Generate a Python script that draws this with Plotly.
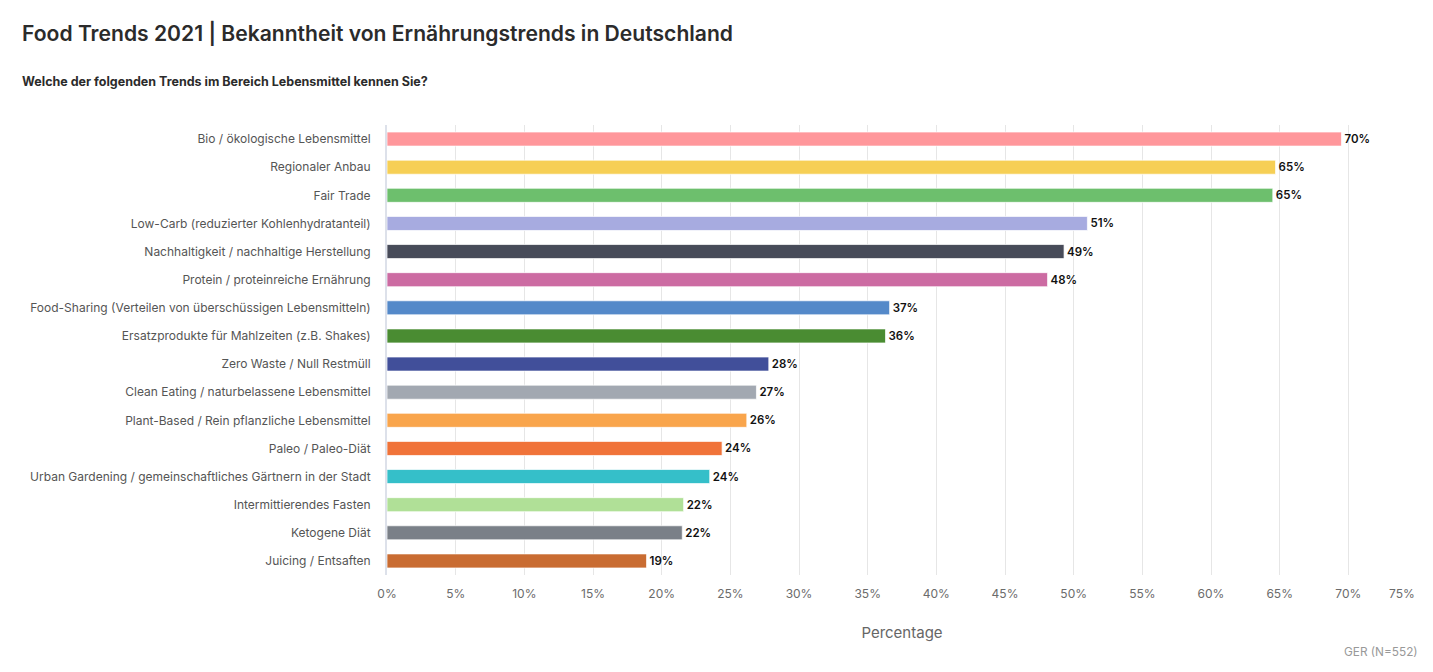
import plotly.graph_objects as go

categories = [
    "Bio / ökologische Lebensmittel",
    "Regionaler Anbau",
    "Fair Trade",
    "Low-Carb (reduzierter Kohlenhydratanteil)",
    "Nachhaltigkeit / nachhaltige Herstellung",
    "Protein / proteinreiche Ernährung",
    "Food-Sharing (Verteilen von überschüssigen Lebensmitteln)",
    "Ersatzprodukte für Mahlzeiten (z.B. Shakes)",
    "Zero Waste / Null Restmüll",
    "Clean Eating / naturbelassene Lebensmittel",
    "Plant-Based / Rein pflanzliche Lebensmittel",
    "Paleo / Paleo-Diät",
    "Urban Gardening / gemeinschaftliches Gärtnern in der Stadt",
    "Intermittierendes Fasten",
    "Ketogene Diät",
    "Juicing / Entsaften",
]
values = [69.5, 64.7, 64.5, 51.0, 49.3, 48.1, 36.6, 36.3, 27.8, 26.9, 26.2, 24.4, 23.5, 21.6, 21.5, 18.9]
value_labels = ["70%", "65%", "65%", "51%", "49%", "48%", "37%", "36%", "28%", "27%", "26%", "24%", "24%", "22%", "22%", "19%"]
colors = ["#FF979B", "#F6CF55", "#6DBF6D", "#A7ABE0", "#474B59", "#CC6BA2", "#5489C9", "#4A8C32",
          "#414F9A", "#A2A8B1", "#F9A54C", "#F07339", "#35BFC9", "#B0E097", "#7A8088", "#C96C32"]
tick_vals = list(range(0, 80, 5))
tick_text = [f"{v}%" for v in tick_vals]
X_MAX = tick_vals[-1]
last_tick_label = tick_text[-1]
tick_text[-1] = ""  # drawn separately, pulled inside the chart edge as in the original

FONT = "Inter, Roboto, 'Noto Sans', sans-serif"

# page body has an 8px margin; compensate so the figure fits the window
OFF = 8
W, H = 1433 - 2 * OFF, 672 - 2 * OFF
L, R, T = 387 - OFF, W - (1417 - OFF), 125 - OFF
B = H - (575 - OFF)
pw = W - L - R
ph = H - T - B


def px(page_x):
    return (page_x - OFF - L) / pw


def py(page_y):
    return (H - B - (page_y - OFF)) / ph


fig = go.Figure(go.Bar(
    x=values,
    y=categories,
    orientation="h",
    marker=dict(color=colors, line=dict(color="rgba(255,255,255,0.7)", width=1)),
    text=value_labels,
    textposition="outside",
    textfont=dict(family=FONT, size=11.5, color="#111111", weight=600),
    cliponaxis=False,
    hoverinfo="skip",
))

fig.update_layout(
    width=W, height=H,
    margin=dict(l=L, r=R, t=T, b=B),
    paper_bgcolor="white", plot_bgcolor="white",
    bargap=0.5,
    showlegend=False,
    font=dict(family=FONT),
    xaxis=dict(
        range=[0, X_MAX], tickvals=tick_vals, ticktext=tick_text,
        showgrid=True, gridcolor="#e6e6e6", gridwidth=1,
        zeroline=False, showline=False,
        tickfont=dict(family=FONT, size=12, color="#6b6b6b"),
        ticks="", ticklabelstandoff=10,
        title=dict(text="Percentage", font=dict(family=FONT, size=15, color="#666666"), standoff=27),
    ),
    yaxis=dict(
        categoryorder="array", categoryarray=categories, autorange="reversed",
        showgrid=False, zeroline=False,
        showline=True, linecolor="#dde1ea", linewidth=2,
        ticks="", ticklabelstandoff=12,
        tickfont=dict(family=FONT, size=12, color="#555555"),
    ),
)

fig.add_annotation(text=last_tick_label, x=X_MAX, xref="x", y=py(593), yref="paper",
                   xanchor="right", yanchor="middle", showarrow=False,
                   font=dict(family=FONT, size=12, color="#6b6b6b"))
fig.add_annotation(text="Food Trends 2021 | Bekanntheit von Ernährungstrends in Deutschland",
                   x=px(20), y=py(33), xref="paper", yref="paper", xanchor="left", yanchor="middle",
                   showarrow=False, font=dict(family=FONT, size=21.1, color="#2b2b2b", weight=600))
fig.add_annotation(text="Welche der folgenden Trends im Bereich Lebensmittel kennen Sie?",
                   x=px(20), y=py(82), xref="paper", yref="paper", xanchor="left", yanchor="middle",
                   showarrow=False, font=dict(family=FONT, size=12.5, color="#2b2b2b", weight=700))
fig.add_annotation(text="GER (N=552)",
                   x=px(1420), y=py(652), xref="paper", yref="paper", xanchor="right", yanchor="middle",
                   showarrow=False, font=dict(family=FONT, size=11.8, color="#999999"))

fig.write_html("out.html")
